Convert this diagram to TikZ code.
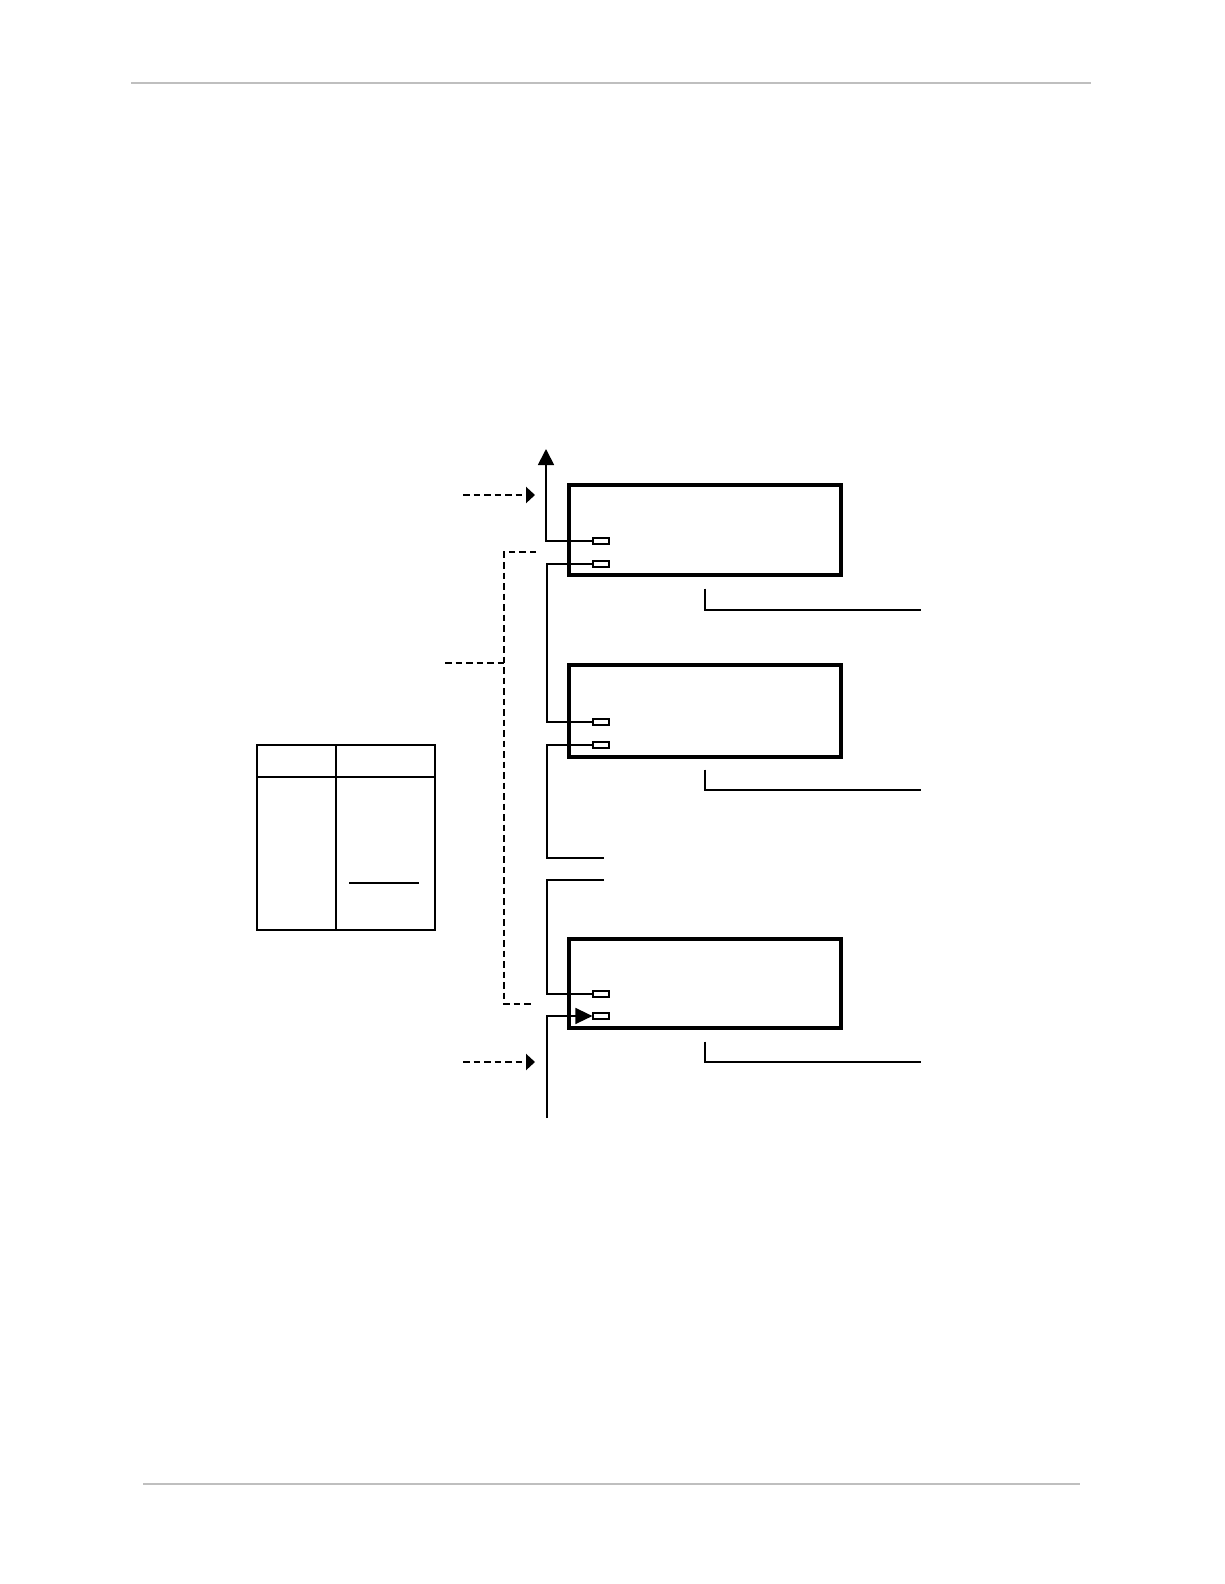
\documentclass[tikz,border=0pt]{standalone}
\usetikzlibrary{arrows.meta,calc}
\begin{document}
\begin{tikzpicture}[x=1pt,y=-1pt,
  panel/.style={draw,line width=3.2pt,minimum width=272pt,minimum height=90pt,inner sep=0pt},
  port/.style={draw,line width=1.2pt,minimum width=16pt,minimum height=6pt,inner sep=0pt},
  wire/.style={line width=1.4pt},
  dashline/.style={line width=2.5pt,dash pattern=on 6.5pt off 4pt},
  leader/.style={line width=1.7pt},
  rule/.style={draw=black!25,line width=2pt}]
\useasboundingbox (0,0) rectangle (1224,1584);
% page rules
\draw[rule] (131,83) -- (1091,83);
\draw[rule] (143,1484) -- (1080,1484);
% panels
\node[panel] (b1) at (705,530) {};
\node[panel,minimum height=92pt] (b2) at (705,711) {};
\node[panel,minimum height=89pt] (b3) at (705,983.5) {};
% ports
\node[port] (p1) at (601,541) {};
\node[port] (p2) at (601,564) {};
\node[port] (p3) at (601,722) {};
\node[port] (p4) at (601,745) {};
\node[port] (p5) at (601,994) {};
\node[port] (p6) at (601,1016) {};
% free ends
\coordinate (top) at (546,449);
\coordinate (gapa) at (604,858);
\coordinate (gapb) at (604,880);
\coordinate (bot) at (547,1118);
% wires
\draw[wire,line width=1.8pt,-{Triangle[length=16pt,width=16pt]}] (p1.west) -| (top);
\draw[wire] (p2.west) -| (547,640) |- (p3.west);
\draw[wire] (p4.west) -| (547,800) |- (gapa);
\draw[wire] (gapb) -| (547,940) |- (p5.west);
\draw[wire,-{Triangle[length=17pt,width=16pt]}] (bot) |- (p6.west);
% dashed arrows
\coordinate (da1) at (463,495);
\coordinate (da1e) at (535,495);
\coordinate (da2) at (463,1062);
\coordinate (da2e) at (535,1062);
\draw[dashline,-{Triangle[length=9pt,width=16pt]}] (da1) -- (da1e);
\draw[dashline,-{Triangle[length=9pt,width=16pt]}] (da2) -- (da2e);
% dashed bracket
\coordinate (bt) at (536,552);
\coordinate (bb) at (532,1004);
\coordinate (bm) at (445,663);
\draw[dashline] (bt) -- (504,552) -- (504,1004) -- (bb);
\draw[dashline] (bm) -- (504,663);
% leaders
\draw[leader] ($(b1.south)+(0,12)$) -- (705,610) -- (921,610);
\draw[leader] ($(b2.south)+(0,11)$) -- (705,790) -- (921,790);
\draw[leader] ($(b3.south)+(0,12)$) -- (705,1062) -- (921,1062);
% table
\node[draw,line width=2.2pt,minimum width=178pt,minimum height=185pt,inner sep=0pt] (tab) at (346,837.5) {};
\draw[line width=2.2pt] (336,745) -- (336,930);
\draw[line width=2.2pt] (257,777) -- (435,777);
\draw[line width=2pt] (349,883) -- (419,883);
\end{tikzpicture}
\end{document}
